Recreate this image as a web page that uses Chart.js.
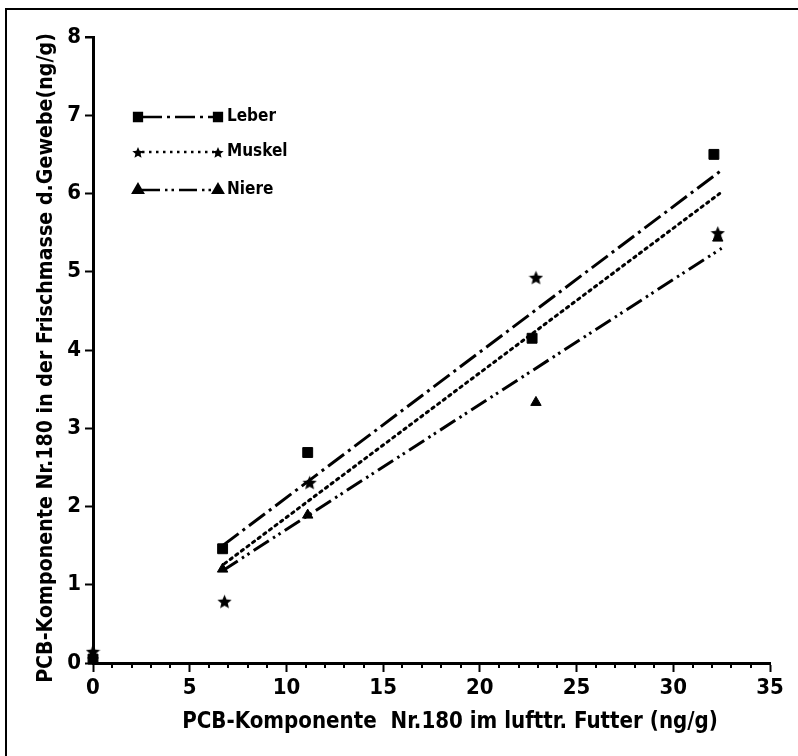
<!DOCTYPE html>
<html>
<head>
<meta charset="utf-8">
<script src="https://cdn.jsdelivr.net/npm/chart.js@4/dist/chart.umd.min.js"></script>
<style>
html,body{margin:0;padding:0;background:#fff}
#wrap{width:798px;height:756px;position:relative}
</style>
</head>
<body>
<div id="wrap"><canvas id="mycanvas"></canvas></div>
<script>
var leberX=[0,6.7,11.1,22.7,32.1];
var leberY=[0.05,1.46,2.69,4.15,6.5];
var muskelX=[0,6.8,11.2,22.9,32.3];
var muskelY=[0.15,0.79,2.31,4.93,5.5];
var niereX=[0,6.7,11.1,22.9,32.3];
var niereY=[0.1,1.2,1.89,3.33,5.43];
// regression lines (end points)
var leberFitX=[6.7,32.4];
var leberFitY=[1.5,6.28];
var muskelFitX=[6.8,32.4];
var muskelFitY=[1.27,6.0];
var niereFitX=[6.7,32.5];
var niereFitY=[1.18,5.3];

var xTicks=[0,5,10,15,20,25,30,35];
var yTicks=[0,1,2,3,4,5,6,7,8];
var seriesNames=['Leber','Muskel','Niere'];
var xTitle='PCB-Komponente  Nr.180 im lufttr. Futter (ng/g)';
var yTitle='PCB-Komponente Nr.180 in der Frischmasse d.Gewebe(ng/g)';

var FONT='"DejaVu Sans Condensed", "DejaVu Sans", sans-serif';

function pts(xs,ys){
	var out=[];
	for(var i in xs){ out.push({x:xs[i],y:ys[i]}); }
	return out;
}

// filled five-point star as point style
function makeStar(size){
	var c=document.createElement('canvas');
	c.width=size;c.height=size;
	var g=c.getContext('2d');
	var r=size/2,ri=r*0.45;
	g.beginPath();
	for(var i=0;i<10;i++){
		var a=-Math.PI/2+i*Math.PI/5;
		var rr=(i%2==0)?r:ri;
		var px=r+rr*Math.cos(a),py=r+rr*Math.sin(a)+1;
		if(i==0) g.moveTo(px,py); else g.lineTo(px,py);
	}
	g.closePath();
	g.fillStyle='#000';
	g.fill();
	return c;
}
var star=makeStar(15);
var starSmall=makeStar(12);

var dashLeber=[20,5,3,5];
var dashMuskel=[2.5,4.5];
var dashNiere=[18,5,2.5,4,2.5,5];

var markers=['rect',starSmall,'triangle'];
var dashes=[dashLeber,dashMuskel,dashNiere];

function fitFont(ctx,text,w,weight){
	ctx.font=weight+' 20px '+FONT;
	var m=ctx.measureText(text).width;
	var s=20*w/m;
	return weight+' '+s.toFixed(2)+'px '+FONT;
}

var extras={
	id:'extras',
	afterDraw:function(chart){
		var ctx=chart.ctx;
		var xs=chart.scales.x,ys=chart.scales.y;
		ctx.save();
		// frame of the figure
		ctx.strokeStyle='#000';
		ctx.lineWidth=2;
		ctx.beginPath();
		ctx.moveTo(6,756);ctx.lineTo(6,9);ctx.lineTo(798,9);
		ctx.stroke();
		// minor ticks on x axis
		ctx.lineWidth=2;
		var y0=ys.getPixelForValue(0);
		for(var v=1;v<35;v++){
			if(v%5==0) continue;
			var px=Math.round(xs.getPixelForValue(v));
			ctx.beginPath();ctx.moveTo(px,y0);ctx.lineTo(px,y0+5);ctx.stroke();
		}
		// small stub at top of y axis
		var yt=ys.getPixelForValue(8);
		ctx.beginPath();ctx.moveTo(xs.getPixelForValue(0),yt);ctx.lineTo(xs.getPixelForValue(0)-8,yt);ctx.stroke();
		// axis titles
		ctx.fillStyle='#000';
		ctx.textBaseline='middle';
		ctx.textAlign='center';
		ctx.font=fitFont(ctx,xTitle,536,'bold');
		ctx.fillText(xTitle,450,722);
		ctx.translate(46,358);
		ctx.rotate(-Math.PI/2);
		ctx.font=fitFont(ctx,yTitle,650,'bold');
		ctx.fillText(yTitle,0,0);
		ctx.restore();

		// legend
		ctx.save();
		var rows=[117,152,190];
		for(var i=0;i<3;i++){
			var ly=rows[i];
			ctx.strokeStyle='#000';
			ctx.lineWidth=2.5;
			ctx.setLineDash(dashes[i]);
			ctx.beginPath();ctx.moveTo(142,ly);ctx.lineTo(214,ly);ctx.stroke();
			ctx.setLineDash([]);
			ctx.fillStyle='#000';
			Chart.helpers.drawPoint(ctx,{pointStyle:markers[i],radius:5.5,rotation:0,borderWidth:1},138,ly);
			Chart.helpers.drawPoint(ctx,{pointStyle:markers[i],radius:5.5,rotation:0,borderWidth:1},218,ly);
			ctx.font='bold 17px '+FONT;
			ctx.textAlign='left';
			ctx.textBaseline='middle';
			ctx.fillText(seriesNames[i],227,ly);
		}
		ctx.restore();
	}
};

var ctx=document.getElementById('mycanvas');
var chart=new Chart(ctx,{
	type:'scatter',
	data:{
		datasets:[
			{label:seriesNames[0],data:pts(leberX,leberY),pointStyle:'rect',pointRadius:7,
			 backgroundColor:'#000',borderColor:'#000',showLine:false},
			{label:seriesNames[1],data:pts(muskelX,muskelY),pointStyle:star,pointRadius:7,
			 backgroundColor:'#000',borderColor:'#000',showLine:false},
			{label:seriesNames[2],data:pts(niereX,niereY),pointStyle:'triangle',pointRadius:6,
			 backgroundColor:'#000',borderColor:'#000',showLine:false},
			{label:'fit Leber',data:pts(leberFitX,leberFitY),showLine:true,pointRadius:0,
			 borderColor:'#000',borderWidth:3,borderDash:dashLeber,fill:false},
			{label:'fit Muskel',data:pts(muskelFitX,muskelFitY),showLine:true,pointRadius:0,
			 borderColor:'#000',borderWidth:3,borderDash:dashMuskel,borderCapStyle:'round',fill:false},
			{label:'fit Niere',data:pts(niereFitX,niereFitY),showLine:true,pointRadius:0,
			 borderColor:'#000',borderWidth:3,borderDash:dashNiere,fill:false}
		]
	},
	options:{
		responsive:true,
		maintainAspectRatio:false,
		animation:false,
		clip:false,
		layout:{autoPadding:false,padding:{left:0,top:37,right:28,bottom:0}},
		plugins:{legend:{display:false},tooltip:{enabled:false}},
		scales:{
			x:{
				type:'linear',min:0,max:35,
				afterBuildTicks:function(s){ s.ticks=xTicks.map(function(v){return {value:v};}); },
				afterFit:function(s){ s.height=93; },
				grid:{drawOnChartArea:false,drawTicks:true,tickLength:9,tickWidth:2,tickColor:'#000'},
				border:{display:true,color:'#000',width:3},
				ticks:{color:'#000',font:{family:FONT,size:22,weight:'bold'},padding:3,maxRotation:0}
			},
			y:{
				type:'linear',min:0,max:8,
				afterBuildTicks:function(s){ s.ticks=yTicks.map(function(v){return {value:v};}); },
				afterFit:function(s){ s.width=93; },
				grid:{drawOnChartArea:false,drawTicks:true,tickLength:8,tickWidth:2,tickColor:'#000'},
				border:{display:true,color:'#000',width:3},
				ticks:{color:'#000',font:{family:FONT,size:22,weight:'bold'},padding:4}
			}
		}
	},
	plugins:[extras]
});
</script>
</body>
</html>
